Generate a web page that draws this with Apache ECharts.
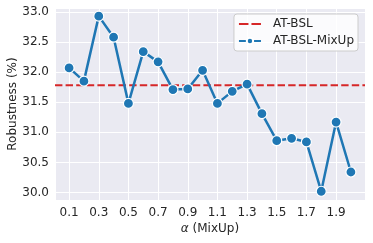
<!DOCTYPE html>
<html><head><meta charset="utf-8">
<script src="https://cdn.jsdelivr.net/npm/echarts@6/dist/echarts.min.js"></script>
<style>html,body{margin:0;padding:0;background:#fff}#c{width:373px;height:243px}</style>
</head><body><div id="c"></div>
<script>
const alphas = [0.1,0.2,0.3,0.4,0.5,0.6,0.7,0.8,0.9,1.0,1.1,1.2,1.3,1.4,1.5,1.6,1.7,1.8,1.9,2.0];
const mixup = [32.07,31.85,32.93,32.58,31.48,32.34,32.17,31.71,31.72,32.03,31.48,31.68,31.80,31.31,30.86,30.90,30.84,30.02,31.17,30.34];
const baseline = 31.78;
const xShift = 0.1;
const xMin = -0.095, xMax = 1.995;
const yMin = 29.875, yMax = 33.065;
const txt = '#262626';
const font = 'DejaVu Sans';
const fs = 12;
const chart = echarts.init(document.getElementById('c'), null, {renderer:'canvas'});
function isMult(v, step){ const r = v/step; return Math.abs(r-Math.round(r))<1e-6; }
chart.setOption({
  animation:false,
  backgroundColor:'#ffffff',
  grid:{left:55,right:8,top:8,bottom:43,show:true,backgroundColor:'#EAEAF2',borderWidth:0,
    containLabel:false,outerBoundsMode:'none'},
  xAxis:{type:'value',min:xMin,max:xMax,minInterval:0.2,maxInterval:0.2,splitNumber:10,
    axisLine:{show:false},axisTick:{show:false},
    splitLine:{show:true,lineStyle:{color:'#ffffff',width:1}},
    axisLabel:{color:txt,fontFamily:font,fontSize:fs,margin:7,showMinLabel:false,showMaxLabel:false,
      formatter:v=> isMult(v,0.2)?(v+xShift).toFixed(1):''},
    name:'{i|α} (MixUp)',nameLocation:'middle',nameGap:23,nameMoveOverlap:false,
    nameTextStyle:{color:txt,fontFamily:font,fontSize:fs,rich:{i:{fontStyle:'italic',fontFamily:font,fontSize:fs,color:txt}}}
  },
  yAxis:{type:'value',min:yMin,max:yMax,minInterval:0.5,maxInterval:0.5,splitNumber:6,
    axisLine:{show:false},axisTick:{show:false},
    splitLine:{show:true,lineStyle:{color:'#ffffff',width:1}},
    axisLabel:{color:txt,fontFamily:font,fontSize:fs,margin:6,showMinLabel:false,showMaxLabel:false,
      formatter:v=> isMult(v,0.5)?v.toFixed(1):''},
    name:'Robustness (%)',nameLocation:'middle',nameGap:36,nameMoveOverlap:false,
    nameTextStyle:{color:txt,fontFamily:font,fontSize:fs}
  },
  legend:{orient:'vertical',right:15,top:14,align:'left',
    backgroundColor:'rgba(255,255,255,0.8)',borderColor:'#cccccc',borderWidth:1,borderRadius:3,
    padding:[3,4,3,4],itemGap:3,itemWidth:22,itemHeight:8,
    textStyle:{color:txt,fontFamily:font,fontSize:fs,lineHeight:14,padding:[0,0,0,7]},
    data:[
      {name:'AT-BSL',icon:'path://M0,0h9.5v2.2h-9.5z M12.5,0h9.5v2.2h-9.5z',itemStyle:{color:'#d62728'}},
      {name:'AT-BSL-MixUp'}
    ]},
  series:[
    {name:'AT-BSL',type:'line',data:[[xMin,baseline],[xMax,baseline]],symbol:'none',
      lineStyle:{color:'#d62728',width:2,type:[7.4,3.2]},itemStyle:{color:'#d62728'},z:2},
    {name:'AT-BSL-MixUp',type:'line',data:alphas.map((a,i)=>[a-xShift,mixup[i]]),
      symbol:'circle',symbolSize:10,showSymbol:true,
      lineStyle:{color:'#1f77b4',width:2.5},
      itemStyle:{color:'#1f77b4',borderColor:'#ffffff',borderWidth:1.2},z:3}
  ]
});
</script></body></html>
